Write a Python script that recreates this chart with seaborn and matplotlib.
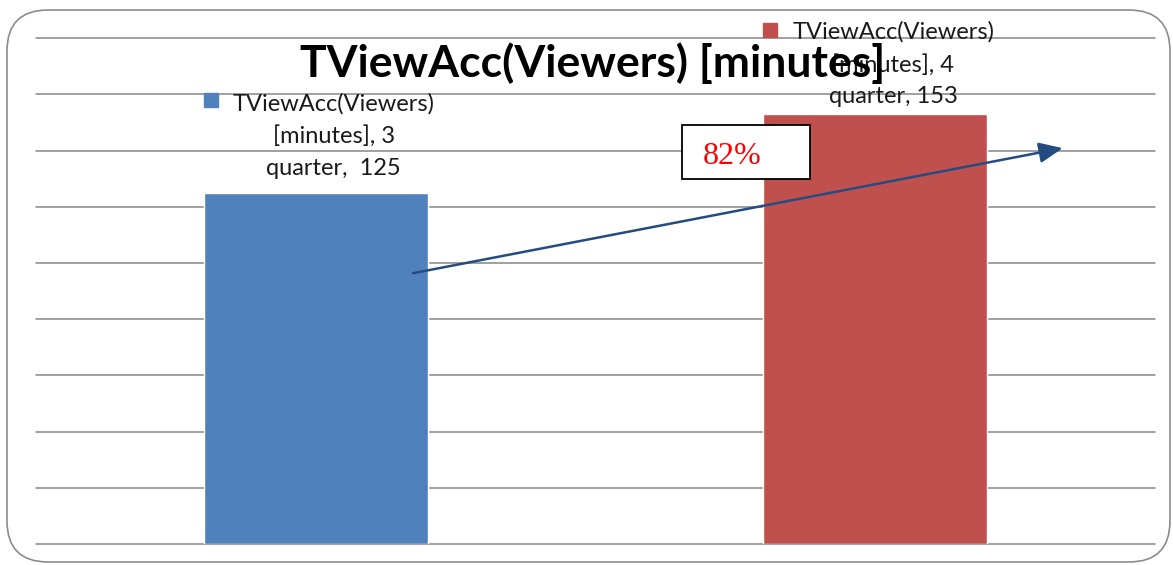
import matplotlib
matplotlib.use("Agg")
import matplotlib.pyplot as plt
import matplotlib.transforms as mtransforms
from matplotlib.patches import FancyBboxPatch, Rectangle
import seaborn as sns
import pandas as pd

# ---- data ----
chart_title = "TViewAcc(Viewers) [minutes]"
categories = ["3 quarter", "4 quarter"]
values = [125, 153]
bar_colors = ["#4F81BD", "#C0504D"]
label_texts = [
    "TViewAcc(Viewers)\n[minutes], 3\nquarter,  125",
    "TViewAcc(Viewers)\n[minutes], 4\nquarter, 153",
]
growth_label = "82%"
y_ticks = [0, 20, 40, 60, 80, 100, 120, 140, 160, 180]

df = pd.DataFrame({"quarter": categories, "value": values})

sns.set_theme(style="white")
plt.rcParams["font.family"] = ["Lato", "DejaVu Sans"]

W, H = 1173, 565
fig = plt.figure(figsize=(W / 100, H / 100), dpi=100)
fig.patch.set_facecolor("white")

# rounded outer frame
frame = FancyBboxPatch((7 / W, 3 / H), (1163) / W, (552) / H,
                       boxstyle="round,pad=0,rounding_size=0.035",
                       transform=fig.transFigure, facecolor="none",
                       edgecolor="#8C8C8C", linewidth=1.2,
                       mutation_aspect=W / H)
fig.add_artist(frame)

ax = fig.add_axes([36 / W, 21 / H, 1119 / W, (544 - 38.3) / H])
ax.set_facecolor("none")

sns.barplot(data=df, x="quarter", y="value", hue="quarter",
            palette=bar_colors, width=0.4, saturation=1, legend=False,
            ax=ax, errorbar=None)

ax.set_xlim(-0.5, 1.5)
ax.set_ylim(0, 180)
ax.set_yticks(y_ticks)
ax.set_yticklabels([])
ax.set_xticks([])
ax.set_xlabel("")
ax.set_ylabel("")
for s in ax.spines.values():
    s.set_visible(False)
ax.set_axisbelow(True)
ax.yaxis.grid(True, color="#868686", linewidth=1.1)
ax.xaxis.grid(False)
for gl in ax.get_ygridlines():
    gl.set_clip_on(False)
ax.tick_params(length=0)

# data labels with legend keys
label_dy = [57, 50]      # pixels above bar top to label block centre
label_dx = 18
key_offsets = [(7, 93), (6.5, 84.5)]
for i, p in enumerate(ax.patches[:len(values)]):
    xc = p.get_x() + p.get_width() / 2
    h = p.get_height()
    ax.annotate(label_texts[i], xy=(xc, h), xytext=(label_dx, label_dy[i]),
                textcoords="offset pixels", ha="center", va="center",
                fontsize=17, linespacing=1.62, color="#1a1a1a", zorder=5,
                annotation_clip=False)
    tr = mtransforms.offset_copy(ax.transData, fig=fig, x=key_offsets[i][0],
                                 y=key_offsets[i][1], units="dots")
    ax.plot([p.get_x()], [h], marker="s", markersize=10, color=bar_colors[i],
            transform=tr, clip_on=False, zorder=5)

# title
fig.text(593 / W, 1 - 63 / H, chart_title, ha="center", va="center",
         fontsize=32, fontweight="bold", color="black", zorder=10)

# growth arrow
ax.annotate("", xy=(1.335, 140.9), xytext=(0.174, 96.4),
            arrowprops=dict(arrowstyle="-|>,head_length=0.8,head_width=0.35",
                            color="#254C80", lw=1.8, mutation_scale=18,
                            shrinkA=0, shrinkB=0),
            zorder=6, annotation_clip=False)

# 82% box
box = Rectangle((682 / W, 1 - 179 / H), 128 / W, 54 / H, transform=fig.transFigure,
                facecolor="white", edgecolor="black", linewidth=1.3, zorder=7)
fig.add_artist(box)
fig.text(703 / W, 1 - 157 / H, growth_label, ha="left", va="center",
         fontsize=23, color="#FF0000", family=["Liberation Serif", "DejaVu Serif"],
         zorder=8)

fig.savefig("out.png", dpi=100, facecolor="white")
